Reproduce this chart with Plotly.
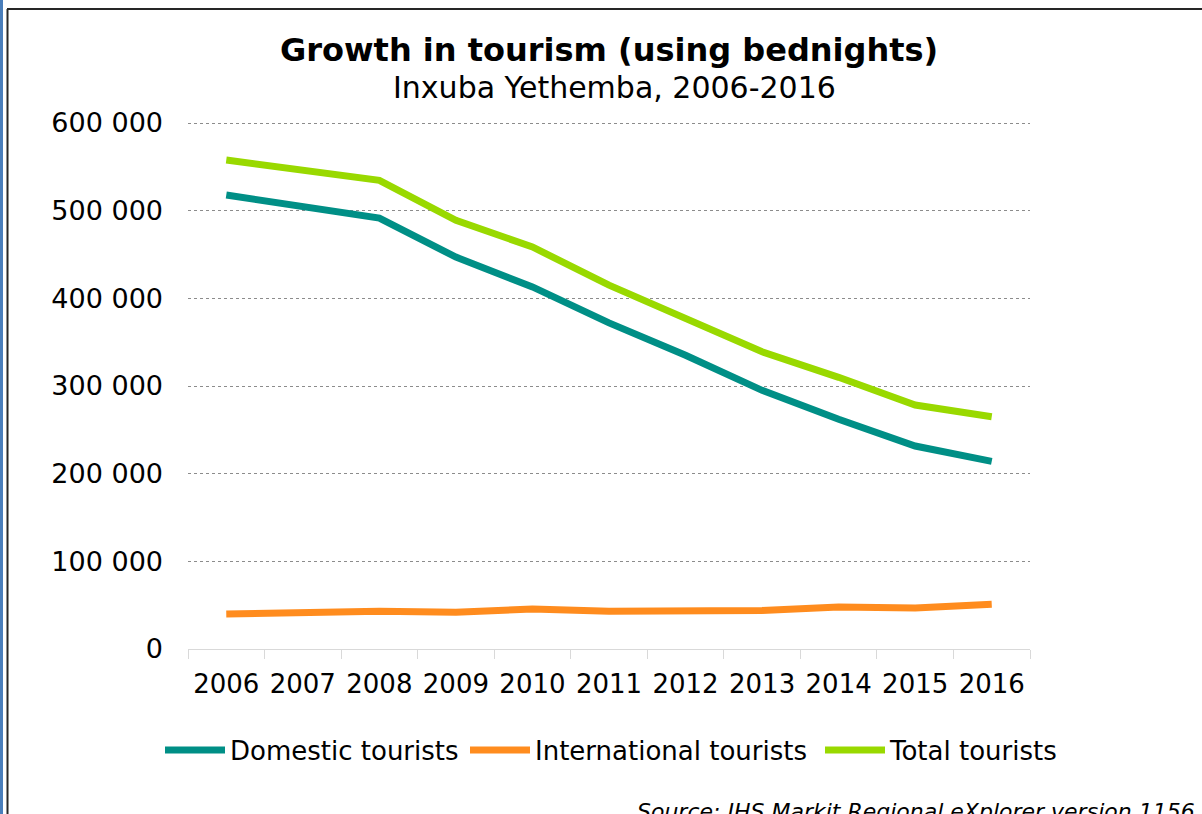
import plotly.graph_objects as go

# Bednights by tourist type, Inxuba Yethemba
years = ["2006", "2007", "2008", "2009", "2010", "2011", "2012", "2013", "2014", "2015", "2016"]
domestic = [517800, 504000, 491600, 447000, 413000, 372000, 335000, 295000, 262000, 231500, 214000]
international = [40000, 42000, 43000, 42000, 45600, 43000, 43000, 44000, 47900, 46800, 51000]
total = [d + i for d, i in zip(domestic, international)]
y_ticks = [0, 100000, 200000, 300000, 400000, 500000, 600000]

series_names = ["Domestic tourists", "International tourists", "Total tourists"]
series_colors = ["#008F86", "#FF8C1E", "#99D900"]
legend_ids = ["legend", "legend2", "legend3"]
legend_left_px = [167, 472, 827]

W, H = 1202, 814
ML, MR, MT, MB = 188, 172, 120, 165
PW, PH = W - ML - MR, H - MT - MB
# small headroom above the top gridline so it is still drawn
Y_TOP = 600000 * PH / (PH - 3)


def px_x(x):
    return (x - ML) / PW


def px_y(y):
    return (H - MB - y) / PH


FONT = "DejaVu Sans, Verdana, sans-serif"

fig = go.Figure()
for name, vals, col, lg in zip(series_names, [domestic, international, total], series_colors, legend_ids):
    fig.add_trace(go.Scatter(
        x=years, y=vals, name=name, mode="lines", legend=lg,
        line=dict(color=col, width=7, shape="linear"),
        hoverinfo="x+y+name",
    ))

legend_common = dict(
    orientation="h", xanchor="left", yanchor="middle", y=px_y(750),
    font=dict(family=FONT, size=26, color="black"),
    itemwidth=60, bgcolor="rgba(0,0,0,0)", borderwidth=0,
)
legends = {}
for lg, left in zip(legend_ids, legend_left_px):
    legends[lg] = dict(legend_common, x=px_x(left - 7))

fig.update_layout(
    width=W, height=H,
    margin=dict(l=ML, r=MR, t=MT, b=MB, pad=0),
    paper_bgcolor="white", plot_bgcolor="white",
    separators=". ",
    font=dict(family=FONT, size=26, color="black"),
    showlegend=True,
    xaxis=dict(
        type="category", showgrid=False, showline=True, linecolor="#D9D9D9", linewidth=1,
        ticks="outside", tickson="boundaries", ticklen=9, tickcolor="#D9D9D9",
        tickangle=0,
        tickfont=dict(family=FONT, size=26, color="black"),
        ticklabelstandoff=12, range=[-0.5, 10.5],
    ),
    yaxis=dict(
        range=[0, Y_TOP], tickvals=y_ticks,
        tickformat=",d", showgrid=True, gridcolor="#8C8C8C", griddash="dot", gridwidth=1,
        zeroline=False, showline=False, ticks="",
        tickfont=dict(family=FONT, size=27, color="black"),
        ticklabelstandoff=24,
    ),
    annotations=[
        dict(text="<b>Growth in tourism (using bednights)</b>", xref="paper", yref="paper",
             x=px_x(609), y=px_y(50), xanchor="center", yanchor="middle", showarrow=False,
             font=dict(family=FONT, size=32, color="black")),
        dict(text="Inxuba Yethemba, 2006-2016", xref="paper", yref="paper",
             x=px_x(614), y=px_y(87), xanchor="center", yanchor="middle", showarrow=False,
             font=dict(family=FONT, size=30, color="black")),
        dict(text="<i>Source: IHS Markit Regional eXplorer version 1156</i>", xref="paper", yref="paper",
             x=px_x(1197), y=px_y(797), xanchor="right", yanchor="top", showarrow=False,
             font=dict(family=FONT, size=22, color="black")),
    ],
    shapes=[
        dict(type="line", xref="paper", yref="paper", x0=px_x(1.5), x1=px_x(1.5),
             y0=px_y(0), y1=px_y(H), line=dict(color="#4A7EBB", width=3)),
        dict(type="line", xref="paper", yref="paper", x0=px_x(7.5), x1=px_x(7.5),
             y0=px_y(9), y1=px_y(H), line=dict(color="#262626", width=2)),
        dict(type="line", xref="paper", yref="paper", x0=px_x(7), x1=px_x(W),
             y0=px_y(9), y1=px_y(9), line=dict(color="#262626", width=2)),
    ],
    **legends,
)

fig.write_html("out.html")
